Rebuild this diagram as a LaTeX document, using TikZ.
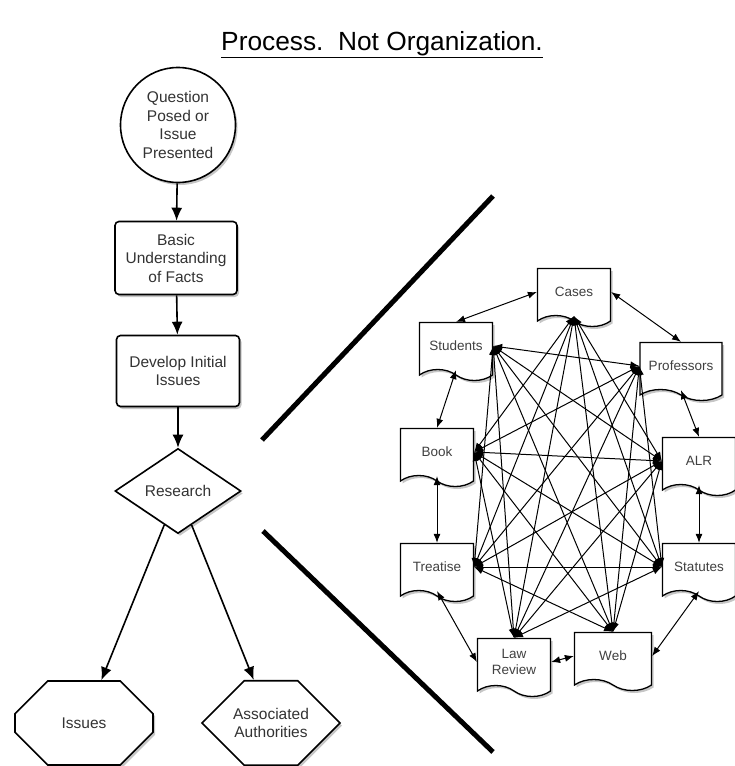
\documentclass[tikz,border=0pt]{standalone}
\usepackage{fontspec}
\setmainfont{Liberation Sans}
\usetikzlibrary{arrows.meta,shapes.geometric,shapes.misc,shapes.symbols,shadows}

\tikzset{
    flow/.style = {line width=1.6pt, -{Latex[length=13pt,width=11pt]}},
    link/.style = {line width=1pt, {Latex[length=9pt,width=7pt]}-{Latex[length=9pt,width=7pt]}},
    softshadow/.style = {drop shadow={shadow xshift=2pt, shadow yshift=-2.5pt, opacity=0.45}},
    stepbox/.style = {draw, line width=1.6pt, fill=white, softshadow, align=center,
        text=black!80, font=\fontsize{15.5}{18.5}\selectfont},
    endbox/.style = {stepbox, chamfered rectangle, chamfered rectangle xsep=40pt,
        chamfered rectangle ysep=24pt, minimum width=138pt, minimum height=84pt},
    docbox/.style = {tape, tape bend top=none, tape bend bottom=out and in, tape bend height=11pt,
        draw, line width=1.3pt, fill=white, softshadow, align=center, text=black!75,
        minimum width=73pt, minimum height=58pt, font=\fontsize{13.5}{16}\selectfont},
}

\begin{document}
\begin{tikzpicture}[x=1pt, y=-1pt]
    \useasboundingbox (0,0) rectangle (735,766);

    \node (title) at (382,45) {\fontsize{26.3}{30}\selectfont\underline{Process.\ \ Not Organization.}};

    % left: the process
    \node[stepbox, circle, minimum size=115pt, inner sep=0pt] (question) at (178,125) {Question\\Posed or\\Issue\\Presented};
    \node[stepbox, rounded corners=4pt, minimum width=122pt, minimum height=73pt] (facts) at (176,258) {Basic\\Understanding\\of Facts};
    \node[stepbox, rounded corners=4pt, minimum width=123pt, minimum height=71pt] (initial) at (178,371) {Develop Initial\\Issues};
    \node[stepbox, diamond, minimum width=126pt, minimum height=85pt, inner sep=0pt] (research) at (178,491) {Research};
    \node[endbox] (issues) at (84,723) {Issues};
    \node[endbox] (authorities) at (271,723) {Associated\\Authorities};

    \draw[flow] (question) -- (facts);
    \draw[flow] (facts) -- (initial);
    \draw[flow] (initial) -- (research);
    \draw[flow] (research) -- (issues);
    \draw[flow] (research) -- (authorities);

    % the two strokes
    \coordinate (up1) at (262,440);
    \coordinate (up2) at (493,196);
    \coordinate (lo1) at (263,531);
    \coordinate (lo2) at (493,752);
    \draw[line width=5pt] (up1) -- (up2);
    \draw[line width=5pt] (lo1) -- (lo2);

    % right: the sources
    \node[docbox] (cases) at (574,292) {Cases};
    \node[docbox] (students) at (456,346) {Students};
    \node[docbox, minimum width=82pt] (professors) at (681,366) {Professors};
    \node[docbox] (book) at (437,452) {Book};
    \node[docbox] (alr) at (699,461) {ALR};
    \node[docbox] (treatise) at (437,567) {Treatise};
    \node[docbox] (statutes) at (699,567) {Statutes};
    \node[docbox] (lawreview) at (514,662) {Law\\Review};
    \node[docbox, minimum width=77pt] (web) at (613,656) {Web};

    \draw[link] (cases.west) -- (students.north);
    \draw[link] (cases.east) -- (professors.north);
    \draw[link] (students.south) -- (book.north);
    \draw[link] (professors.south) -- (alr.north);
    \draw[link] (book.south) -- (treatise.north);
    \draw[link] (alr.south) -- (statutes.north);
    \draw[link] (treatise.south) -- (lawreview.west);
    \draw[link] (statutes.south) -- (web.east);
    \draw[link] (lawreview.east) -- (web.west);

    \path[link] (cases.south) edge (alr.west) edge (statutes.west) edge (web.north)
        edge (lawreview.north) edge (treatise.east) edge (book.east);
    \path[link] (professors.west) edge (statutes.west) edge (web.north) edge (lawreview.north)
        edge (treatise.east) edge (book.east) edge (students.east);
    \path[link] (alr.west) edge (web.north) edge (lawreview.north) edge (treatise.east)
        edge (book.east) edge (students.east);
    \path[link] (statutes.west) edge (lawreview.north) edge (treatise.east) edge (book.east)
        edge (students.east);
    \path[link] (web.north) edge (treatise.east) edge (book.east) edge (students.east);
    \path[link] (lawreview.north) edge (book.east) edge (students.east);
    \path[link] (treatise.east) edge (students.east);
\end{tikzpicture}
\end{document}
